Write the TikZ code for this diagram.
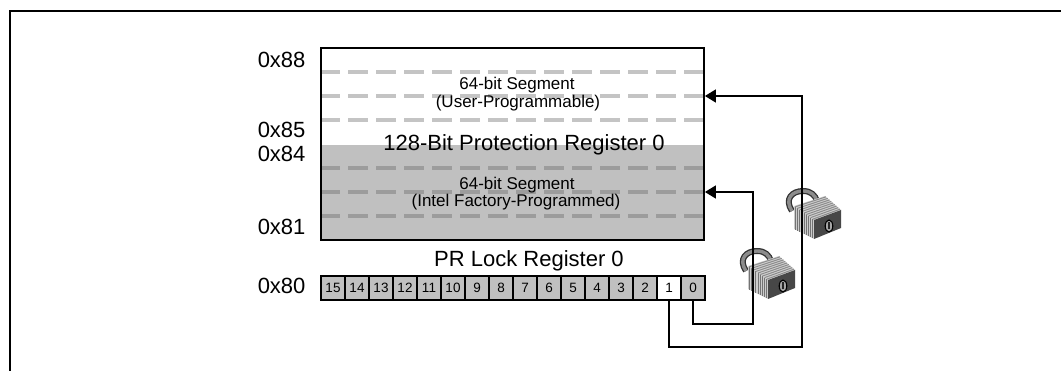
\documentclass[tikz,border=0pt]{standalone}
\usepackage{fontspec}
\setmainfont{Liberation Sans}
\usepackage{tikz}
\usetikzlibrary{arrows.meta}
\definecolor{regfill}{RGB}{192,192,192}
\definecolor{dashlight}{RGB}{196,196,196}
\definecolor{dashdark}{RGB}{156,156,156}
\newcommand{\bigtxt}{\fontsize{22}{25}\selectfont}
\newcommand{\midtxt}{\fontsize{17}{20}\selectfont}
\newcommand{\smalltxt}{\fontsize{13.5}{15}\selectfont}
\tikzset{
  cell/.style={draw, line width=1.3pt, fill=regfill, minimum width=24pt, minimum height=24pt, inner sep=0pt, font=\smalltxt},
  segline/.style={line width=3.6pt, dash pattern=on 20pt off 8pt},
  addr/.style={anchor=base east, font=\bigtxt},
  conn/.style={line width=1.4pt, -{Triangle[length=11pt,width=13pt]}},
  padlock/.pic={
    % shackle
    \draw[line width=6pt, black!80] (7,26) .. controls (-1,14) and (7,6) .. (18,6) .. controls (26,6) and (30,10) .. (32,16);
    \draw[line width=3.4pt, black!45] (7,26) .. controls (-1,14) and (7,6) .. (18,6) .. controls (26,6) and (30,10) .. (32,16);
    % body
    \fill[black!18] (9,21) -- (40,11) -- (56,25) -- (29,35) -- cycle;
    \fill[black!20] (9,21) -- (29,35) -- (29,54) -- (9,44) -- cycle;
    \foreach \t in {0.06,0.17,...,1} {
      \draw[black!55, line width=1pt] ({9+20*\t},{21+14*\t}) -- ({9+20*\t},{44+10*\t});
      \draw[black!45, line width=1pt] ({9+20*\t},{21+14*\t}) -- ({40+16*\t},{11+14*\t});
    }
    \fill[black!72] (29,35) -- (56,25) -- (56,43) -- (29,54) -- cycle;
    \draw[fill=black!35, line width=1.1pt] (44,41) ellipse (3.8 and 6);
    \fill[black!85] (43.3,37.5) rectangle (44.7,44.5);
  }
}
\begin{document}
\begin{tikzpicture}[x=1pt,y=-1pt]
\useasboundingbox (0,0) rectangle (1061,371);
% frame
\draw[line width=2pt] (10,371) -- (10,11) -- (1061,11);
% protection register
\fill[regfill] (321,145) rectangle (704,240);
\foreach \y in {72,96,120} \draw[segline, dashlight] (320,\y) -- (704,\y);
\foreach \y in {168,192,216} \draw[segline, dashdark] (320,\y) -- (704,\y);
\node[draw, line width=1.8pt, minimum width=383pt, minimum height=192pt, inner sep=0pt] (prreg) at (512.5,144) {};
\node[anchor=base, font=\midtxt] (segU) at (517,90) {64-bit Segment};
\node[anchor=base, font=\midtxt] (segUb) at (518,108) {(User-Programmable)};
\node[anchor=base, font=\bigtxt] (title) at (524,151) {128-Bit Protection Register 0};
\node[anchor=base, font=\midtxt] (segF) at (517,190) {64-bit Segment};
\node[anchor=base, font=\midtxt] (segFb) at (516,207) {(Intel Factory-Programmed)};
% addresses
\node[addr] (a88) at (309,68) {0x88};
\node[addr] (a85) at (309,138) {0x85};
\node[addr] (a84) at (309,162) {0x84};
\node[addr] (a81) at (309,235) {0x81};
\node[addr] (a80) at (309,294) {0x80};
% lock register
\node[anchor=base, font=\bigtxt] (lockreg) at (529,267) {PR Lock Register 0};
\foreach \i in {2,...,15}
  \node[cell] (b\i) at ({333+24*(15-\i)},288) {\i};
\node[cell, fill=white] (b1) at (669,288) {1};
\node[cell] (b0) at (693,288) {0};
% locks
\pic at (739,245) {padlock};
\pic at (785,185) {padlock};
% connectors
\coordinate (tapA) at (753,324);
\coordinate (tapB) at (802,347);
\draw[conn] (b0.south) |- (tapA) |- (prreg.east |- 0,192);
\draw[conn] (b1.south) |- (tapB) |- (prreg.east |- 0,96);
\end{tikzpicture}
\end{document}
